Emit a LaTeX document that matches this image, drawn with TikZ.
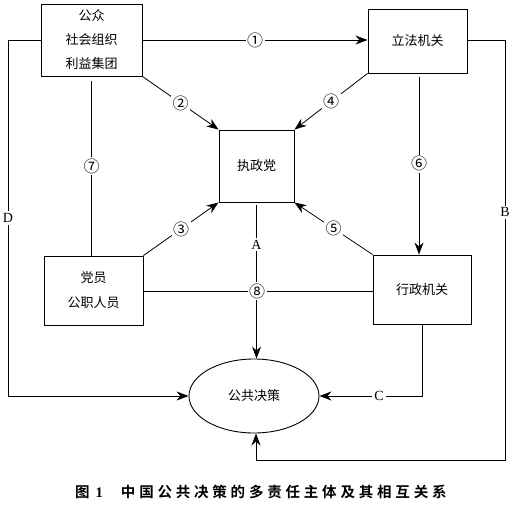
\documentclass[tikz,border=0pt]{standalone}
\usepackage{fontspec}
\setmainfont{Liberation Serif}
\newfontfamily\cjk{Noto Sans CJK SC}
\newfontfamily\cjkb{Noto Sans CJK SC Bold}
\usetikzlibrary{shapes.geometric,arrows.meta}
\begin{document}
\begin{tikzpicture}[x=1pt,y=-1pt,
  box/.style={draw,line width=0.9pt,inner sep=0pt,align=center,font=\cjk\fontsize{13}{24}\selectfont},
  conn/.style={line width=0.8pt},
  arr/.style={conn,-{Stealth[length=12pt,width=9pt]}},
  lab/.style={fill=white,inner sep=1.5pt,font=\cjk\fontsize{16}{16}\selectfont},
  let/.style={fill=white,inner sep=2pt,font=\fontsize{14}{14}\selectfont}]
\useasboundingbox (0,0) rectangle (516,508);
\node[box,minimum width=101pt,minimum height=72pt] (pub) at (91.5,40) {公众\\社会组织\\利益集团};
\node[box,minimum width=99pt,minimum height=64pt] (leg) at (417.5,41) {立法机关};
\node[box,minimum width=75pt,minimum height=72pt] (party) at (256.5,166) {执政党};
\node[box,minimum width=99pt,minimum height=69pt,font=\cjk\fontsize{13}{25}\selectfont] (pm) at (93.5,290.5) {党员\\公职人员};
\node[box,minimum width=98pt,minimum height=69pt] (exe) at (422,289.5) {行政机关};
\node[box,ellipse,minimum width=130pt,minimum height=74pt] (dec) at (254,396) {公共决策};
% arrows
\draw[arr] (pub.east |- 0,40) -- node[lab]{①} (leg.west |- 0,40);
\draw[arr] (pub.south east) -- node[lab]{②} (party.north west);
\draw[arr] (leg.south west) -- node[lab]{④} (party.north east);
\draw[arr] (pm.north east) -- node[lab]{③} (party.south west);
\draw[arr] (exe.north west) -- node[lab]{⑤} (party.south east);
\draw[arr,shorten <=4pt] (419,73) -- node[lab]{⑥} (exe.north -| 419,0);
\draw[conn,shorten <=5pt] (pub.south) -- node[lab]{⑦} (pm.north -| pub.south);
\draw[arr,shorten <=3pt] (party.south) -- node[let,pos=0.27]{A} (party.south |- dec.north);
\draw[conn] (pm.east |- 0,291) -- node[lab,pos=0.496]{⑧} (exe.west |- 0,291);
\coordinate (d1) at (8,40);
\coordinate (d2) at (8,396);
\draw[arr] (pub.west |- 0,40) -- (d1) -- node[let]{D} (d2) -- (dec.west);
\coordinate (b1) at (505,40);
\coordinate (b2) at (505,460);
\coordinate (b3) at (256,460);
\draw[arr] (leg.east |- 0,40) -- (b1) -- node[let,pos=0.41]{B} (b2) -- (b3) -- (dec.south -| b3);
\coordinate (c1) at (exe.south |- dec.east);
\draw[arr] (exe.south) -- (c1) -- node[let,pos=0.42]{C} (dec.east);
% caption
\node[font=\cjkb\fontsize{14.5}{14.5}\selectfont,anchor=west,inner sep=0pt] (cap) at (75,492) {图\hspace{6pt}\textbf{\fontspec{Liberation Serif}1}\hspace{18pt}中\hspace{3.8pt}国\hspace{3.8pt}公\hspace{3.8pt}共\hspace{3.8pt}决\hspace{3.8pt}策\hspace{3.8pt}的\hspace{3.8pt}多\hspace{3.8pt}责\hspace{3.8pt}任\hspace{3.8pt}主\hspace{3.8pt}体\hspace{3.8pt}及\hspace{3.8pt}其\hspace{3.8pt}相\hspace{3.8pt}互\hspace{3.8pt}关\hspace{3.8pt}系};
\end{tikzpicture}
\end{document}
